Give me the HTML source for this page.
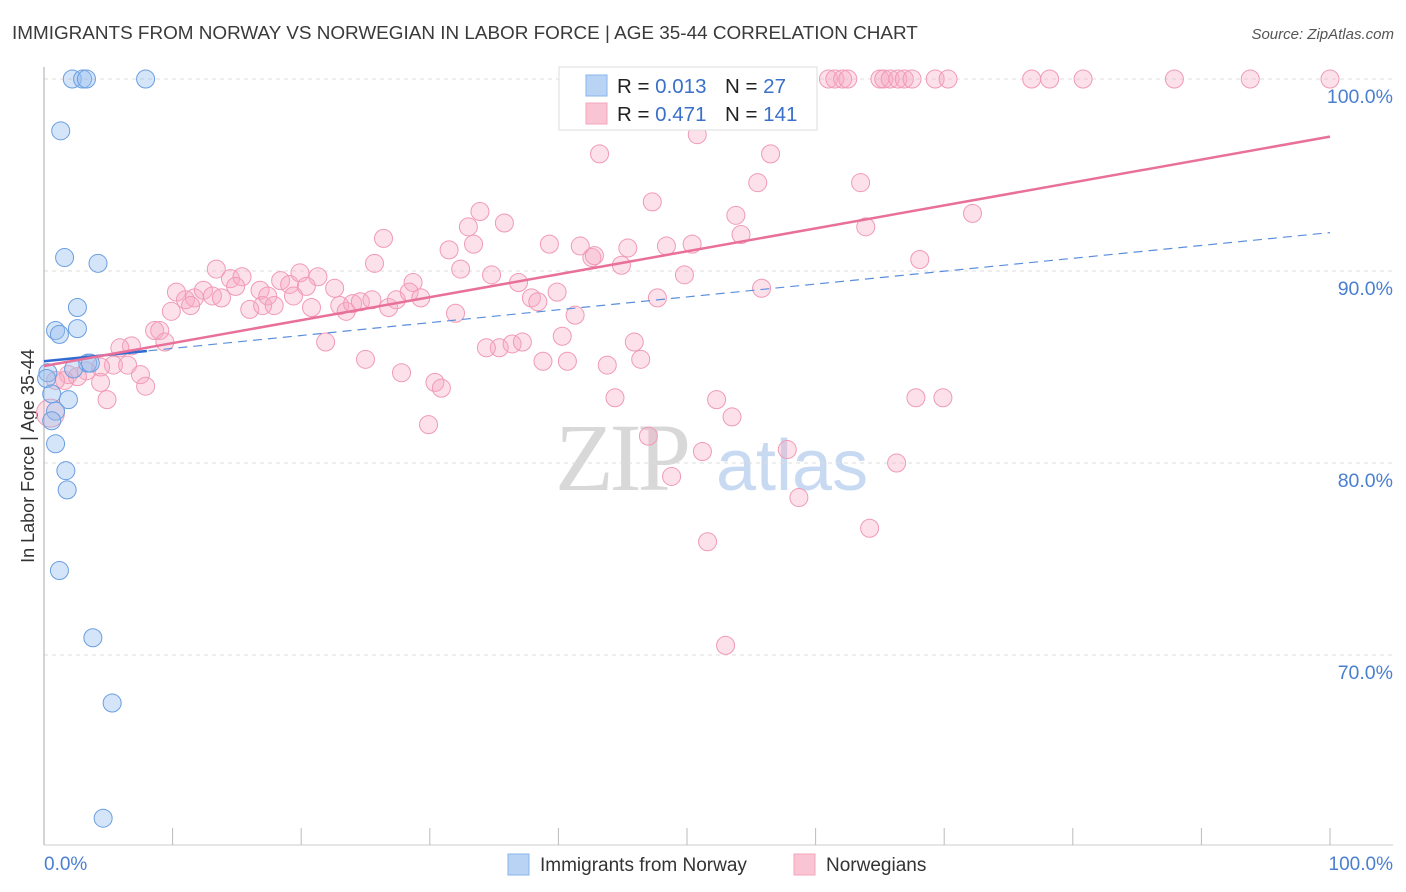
<!DOCTYPE html>
<html><head><meta charset="utf-8"><style>
body{margin:0;background:#fff;font-family:"Liberation Sans",sans-serif}
svg{display:block}
</style></head><body>
<svg id="chart" width="1406" height="892" xmlns="http://www.w3.org/2000/svg" font-family="Liberation Sans, sans-serif">
<text x="12" y="39" font-size="18.9" fill="#3a3a3a">IMMIGRANTS FROM NORWAY VS NORWEGIAN IN LABOR FORCE | AGE 35-44 CORRELATION CHART</text>
<text x="1394" y="39" font-size="15" fill="#555" text-anchor="end" font-style="italic">Source: ZipAtlas.com</text>
<text transform="translate(34,456) rotate(-90)" font-size="18" fill="#333" text-anchor="middle">In Labor Force | Age 35-44</text>
<g><text x="555" y="490" font-size="96" fill="#d8d8d8" font-family="Liberation Serif, serif" letter-spacing="-4">ZIP</text><text x="716" y="490" font-size="72" fill="#c8daf2">atlas</text></g>
<g id="grid"></g>
<g id="axes"></g>
<g id="pts"></g>
<g id="trend"></g>
<g>
<rect x="559" y="67" width="258" height="63" fill="#fff" stroke="#ddd"/>
<rect x="586" y="75" width="21" height="21" fill="#b9d3f5" stroke="#8ab4ea"/>
<rect x="586" y="103" width="21" height="21" fill="#f9c4d3" stroke="#f3a6bd"/>
<text x="617" y="93" font-size="20.5" fill="#222">R = <tspan fill="#3a70c9">0.013</tspan></text>
<text x="725" y="93" font-size="20.5" fill="#222">N = <tspan fill="#3a70c9"> 27</tspan></text>
<text x="617" y="121" font-size="20.5" fill="#222">R = <tspan fill="#3a70c9">0.471</tspan></text>
<text x="725" y="121" font-size="20.5" fill="#222">N = <tspan fill="#3a70c9">141</tspan></text>
</g>
<g>
<rect x="508" y="854" width="21" height="21" fill="#b9d3f5" stroke="#8ab4ea"/>
<text x="540" y="871" font-size="19" fill="#333">Immigrants from Norway</text>
<rect x="794" y="854" width="21" height="21" fill="#f9c4d3" stroke="#f3a6bd"/>
<text x="826" y="871" font-size="19" fill="#333">Norwegians</text>
</g>
</svg>
<script>
const yTicks=[100,90,80,70];
const yTickLabels=["100.0%","90.0%","80.0%","70.0%"];
const xTickLabels=["0.0%","100.0%"];
const blueX=[2.2,3.0,3.3,7.9,1.3,1.6,4.2,2.6,0.9,1.2,2.6,3.4,3.6,2.3,0.3,0.2,0.6,1.9,0.9,0.6,0.9,1.7,1.8,1.2,3.8,5.3,4.6];
const blueY=[100,100,100,100,97.3,90.7,90.4,88.1,86.9,86.7,87.0,85.2,85.2,84.9,84.7,84.4,83.6,83.3,82.7,82.2,81.0,79.6,78.6,74.4,70.9,67.5,61.5];
const pinkX=[61.0,61.5,62.1,62.5,65.0,65.3,65.8,66.4,66.9,67.5,69.3,70.3,76.8,78.2,80.8,87.9,93.8,100,
43.2,50.8,56.5,49.8,47.3,55.5,63.5,53.8,54.2,63.9,72.2,33.9,33.0,35.8,31.5,33.4,39.3,41.7,42.6,42.8,45.4,48.4,50.4,44.9,49.8,68.1,26.4,25.7,32.4,36.9,34.8,28.7,
13.4,14.5,15.4,16.8,18.4,19.1,19.9,21.3,22.6,20.4,10.3,11.0,11.7,12.4,13.1,13.8,14.9,16.0,17.0,17.4,17.9,19.4,20.8,23.0,23.5,24.0,24.6,25.5,26.8,27.4,28.4,29.3,32.0,37.9,38.4,39.9,41.3,47.7,55.8,
9.9,11.4,8.6,9.0,6.8,9.4,5.9,21.9,40.3,45.9,35.4,34.4,36.4,37.2,25.0,38.8,40.7,43.8,46.4,5.4,6.5,4.4,3.3,1.9,2.6,1.6,0.9,7.5,7.9,4.4,4.9,
27.8,30.4,30.9,44.4,52.3,53.5,67.8,69.9,29.9,47.0,51.2,57.8,66.3,48.8,58.7,64.2,51.6,53.0,0.5];
const pinkY=[100,100,100,100,100,100,100,100,100,100,100,100,100,100,100,100,100,100,
96.1,97.1,96.1,98.4,93.6,94.6,94.6,92.9,91.9,92.3,93.0,93.1,92.3,92.5,91.1,91.4,91.4,91.3,90.7,90.8,91.2,91.3,91.4,90.3,89.8,90.6,91.7,90.4,90.1,89.4,89.8,89.4,
90.1,89.6,89.7,89.0,89.5,89.3,89.9,89.7,89.1,89.2,88.9,88.5,88.6,89.0,88.7,88.6,89.2,88.0,88.2,88.7,88.2,88.7,88.1,88.2,87.9,88.3,88.4,88.5,88.1,88.5,88.9,88.6,87.8,88.6,88.4,88.9,87.7,88.6,89.1,
87.9,88.2,86.9,86.9,86.1,86.3,86.0,86.3,86.6,86.3,86.0,86.0,86.2,86.3,85.4,85.3,85.3,85.1,85.4,85.1,85.1,85.0,84.8,84.6,84.5,84.3,84.3,84.6,84.0,84.2,83.3,
84.7,84.2,83.9,83.4,83.3,82.4,83.4,83.4,82.0,81.4,80.6,80.7,80.0,79.3,78.2,76.6,75.9,70.5,82.6];
const pinkTrend=[85.05,97.0];
const blueTrend=[85.3,92.0];
const NS="http://www.w3.org/2000/svg";
const X0=44,X1=1330,Y100=79,PPU=19.2;
const sx=v=>X0+(X1-X0)*v/100;
const sy=v=>Y100+(100-v)*PPU;
function mk(tag,attrs,parent){const e=document.createElementNS(NS,tag);for(const k in attrs)e.setAttribute(k,attrs[k]);document.getElementById(parent).appendChild(e);return e;}
yTicks.forEach((t,i)=>{
 const l=mk('line',{x1:X0,x2:1393,y1:sy(t),y2:sy(t),stroke:'#ddd','stroke-dasharray':'4,4'},'grid');
 
 
 const tx=mk('text',{x:1393,y:sy(t)+24,'font-size':19.5,fill:'#4a7fd0','text-anchor':'end'},'grid');
 tx.textContent=yTickLabels[i];
 
 
});
const ax=mk('line',{x1:X0,x2:X0,y1:67,y2:845,stroke:'#aaa'},'axes');


const bx=mk('line',{x1:X0,x2:1393,y1:845,y2:845,stroke:'#ccc'},'axes');


for(let i=1;i<=10;i++){const t=mk('line',{x1:sx(i*10),x2:sx(i*10),y1:828,y2:845,stroke:'#bbb'},'axes');
 
 }
[[0,'start'],[100,'end']].forEach(([v,a],i)=>{const t=mk('text',{x:i?1393:44,y:870,'font-size':19,fill:'#4a7fd0','text-anchor':a},'axes');t.textContent=xTickLabels[i];
 
 });
pinkX.forEach((x,i)=>{const r=i===pinkX.length-1?14:9;const c=mk('circle',{cx:sx(x),cy:sy(pinkY[i]),r:r,fill:'rgba(246,170,194,0.35)',stroke:'#f19ab5','stroke-width':1},'pts');
 
 });
blueX.forEach((x,i)=>{const c=mk('circle',{cx:sx(x),cy:sy(blueY[i]),r:9,fill:'rgba(150,190,240,0.4)',stroke:'#6a9ee0','stroke-width':1},'pts');
 
 });
const bl=mk('line',{x1:sx(0),y1:sy(blueTrend[0]),x2:sx(100),y2:sy(blueTrend[1]),stroke:'#5b8fdc','stroke-width':1.2,'stroke-dasharray':'9,6'},'trend');


const bs=mk('line',{x1:sx(0),y1:sy(blueTrend[0]),x2:sx(8),y2:sy(blueTrend[0]+(blueTrend[1]-blueTrend[0])*0.08),stroke:'#2f6bd0','stroke-width':2.5},'trend');


const pl=mk('line',{x1:sx(0),y1:sy(pinkTrend[0]),x2:sx(100),y2:sy(pinkTrend[1]),stroke:'#e8709a','stroke-width':2.5},'trend');


</script>
</body></html>
